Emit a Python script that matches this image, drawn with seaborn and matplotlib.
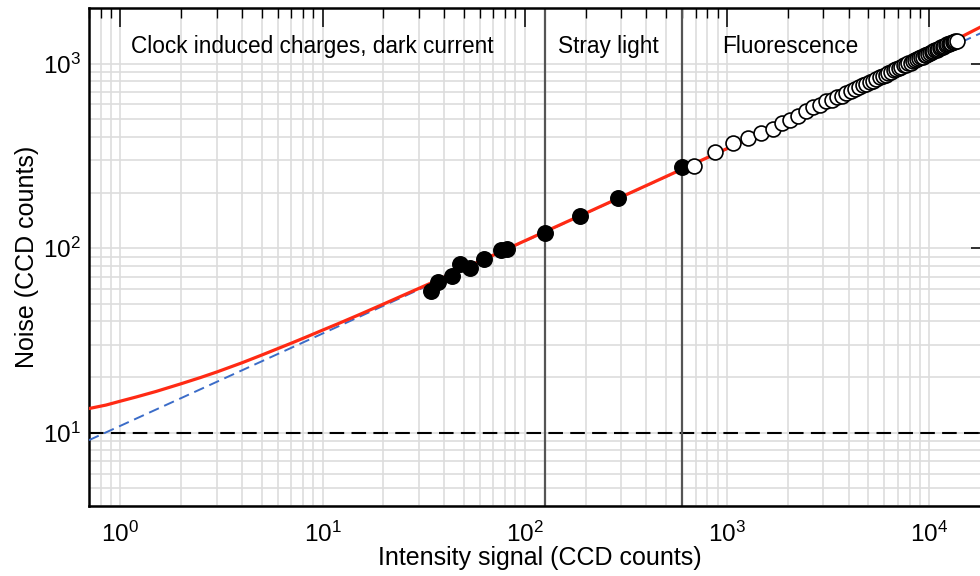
import matplotlib
matplotlib.use("Agg")
import matplotlib.pyplot as plt
import seaborn as sns
from matplotlib.ticker import LogLocator, NullFormatter

# filled points (dark current / stray light regime)
dark_signal = [34.5, 37.1, 43.9, 47.7, 53.8, 62.9, 76.7, 81.7, 125.6, 187, 290, 601]
dark_noise = [58.4, 65.6, 70.5, 81.8, 77.6, 87.5, 97.2, 98.4, 121, 149, 187.5, 275]

# open points (fluorescence regime)
fluo_signal = [687, 873, 1067, 1274, 1473, 1684, 1866, 2051, 2255, 2460, 2673, 2884, 3090,
               3290, 3490, 3690, 3890, 4090, 4290, 4490, 4690, 4890, 5090, 5290, 5490,
               5690, 5890, 6090, 6290, 6490, 6690, 6890, 7090, 7290, 7490, 7690, 7890,
               8090, 8290, 8490, 8690, 8890, 9090, 9290, 9490, 9690, 9890, 10090, 10290,
               10490, 10690, 10890, 11090, 11290, 11490, 11690, 11890, 12090, 12290,
               12490, 12690, 12890, 13090, 13290, 13490, 13716]
fluo_noise = [278, 333, 373, 394, 418, 442, 474, 494, 522, 556, 580, 598, 624,
              634, 655, 671, 692, 708, 728, 743, 763, 777, 796, 809, 828,
              841, 859, 871, 889, 901, 919, 930, 947, 958, 976, 986, 1003,
              1013, 1030, 1040, 1056, 1066, 1082, 1091, 1107, 1116, 1132, 1141, 1157,
              1165, 1181, 1189, 1205, 1212, 1229, 1236, 1250, 1257, 1270,
              1277, 1290, 1296, 1306, 1312, 1318, 1322]

# model curves
model_signal = [0.7, 0.85, 1, 1.2, 1.5, 2, 2.5, 3, 4, 5, 6, 7, 8.5, 10, 12, 15, 20, 25,
                30, 40, 50, 70, 100, 200, 500, 1000, 2000, 5000, 10000, 20000]
total_noise = [13.5, 14.1, 14.8, 15.6, 16.7, 18.4, 19.9, 21.3, 23.9, 26.3, 28.5, 30.5,
               33.3, 35.9, 39.0, 43.3, 49.7, 55.4, 60.5, 69.6, 77.6, 91.6, 109.4, 154.4,
               244.2, 346.0, 491.4, 787.3, 1137.5, 1675.0]
shot_signal = [0.7, 20000]
shot_noise = [9.1, 1539.5]

read_noise = 10
region_bounds = [125.6, 601]
region_names = ["Clock induced charges, dark current", "Stray light", "Fluorescence"]
region_label_x = [1.134, 145.7, 944]

sns.set_style("white")
plt.rcParams['font.family'] = ['Liberation Sans', 'DejaVu Sans']
plt.rcParams['mathtext.fontset'] = 'custom'
plt.rcParams['mathtext.rm'] = 'Liberation Sans'
plt.rcParams['mathtext.it'] = 'Liberation Sans:italic'
plt.rcParams['text.color'] = 'black'
plt.rcParams['axes.labelcolor'] = 'black'
plt.rcParams['xtick.color'] = 'black'
plt.rcParams['ytick.color'] = 'black'

fig = plt.figure(figsize=(9.8, 5.76), dpi=100)
ax = fig.add_axes([0.0908, 0.1215, 0.9194, 0.8646])
ax.set_xscale('log')
ax.set_yscale('log')

ax.axhline(read_noise, color='black', lw=1.5, dashes=(7, 3.5), zorder=2)
for xb in region_bounds:
    ax.axvline(xb, color='#555555', lw=1.6, zorder=2)

sns.lineplot(x=shot_signal, y=shot_noise, ax=ax, color='#3b6cc8', lw=1.4,
             zorder=3).lines[-1].set_dashes((5.5, 3))
sns.lineplot(x=model_signal, y=total_noise, ax=ax, color='#ff2a14', lw=2.3, zorder=4)

sns.scatterplot(x=dark_signal, y=dark_noise, ax=ax, s=125, color='black',
                edgecolor='black', linewidth=1, zorder=5)
sns.scatterplot(x=fluo_signal, y=fluo_noise, ax=ax, s=115, color='white',
                edgecolor='black', linewidth=1.2, zorder=5)

for name, xt in zip(region_names, region_label_x):
    ax.text(xt, 1237, name, fontsize=16.3, ha='left', va='center')

ax.set_xlim(0.7, 20000)
ax.set_ylim(4, 2000)

ax.xaxis.set_major_locator(LogLocator(base=10))
ax.xaxis.set_minor_locator(LogLocator(base=10, subs=range(2, 10)))
ax.yaxis.set_minor_locator(LogLocator(base=10, subs=range(2, 10)))
ax.xaxis.set_minor_formatter(NullFormatter())
ax.yaxis.set_minor_formatter(NullFormatter())

ax.set_axisbelow(True)
ax.grid(which='both', color='#dddddd', lw=1.2)
ax.tick_params(which='major', direction='in', top=True, right=True, length=13.5,
               width=1.1, labelsize=17.5)
ax.tick_params(which='minor', direction='in', top=True, right=True, length=7,
               width=1.0)
ax.tick_params(axis='x', which='major', pad=11)
ax.tick_params(axis='y', which='major', pad=6)
for sp in ax.spines.values():
    sp.set_linewidth(1.8)
    sp.set_color('black')

ax.set_xlabel('Intensity signal (CCD counts)', fontsize=18, labelpad=0)
ax.set_ylabel('Noise (CCD counts)', fontsize=18, labelpad=3)

fig.savefig('out.png', dpi=100)
